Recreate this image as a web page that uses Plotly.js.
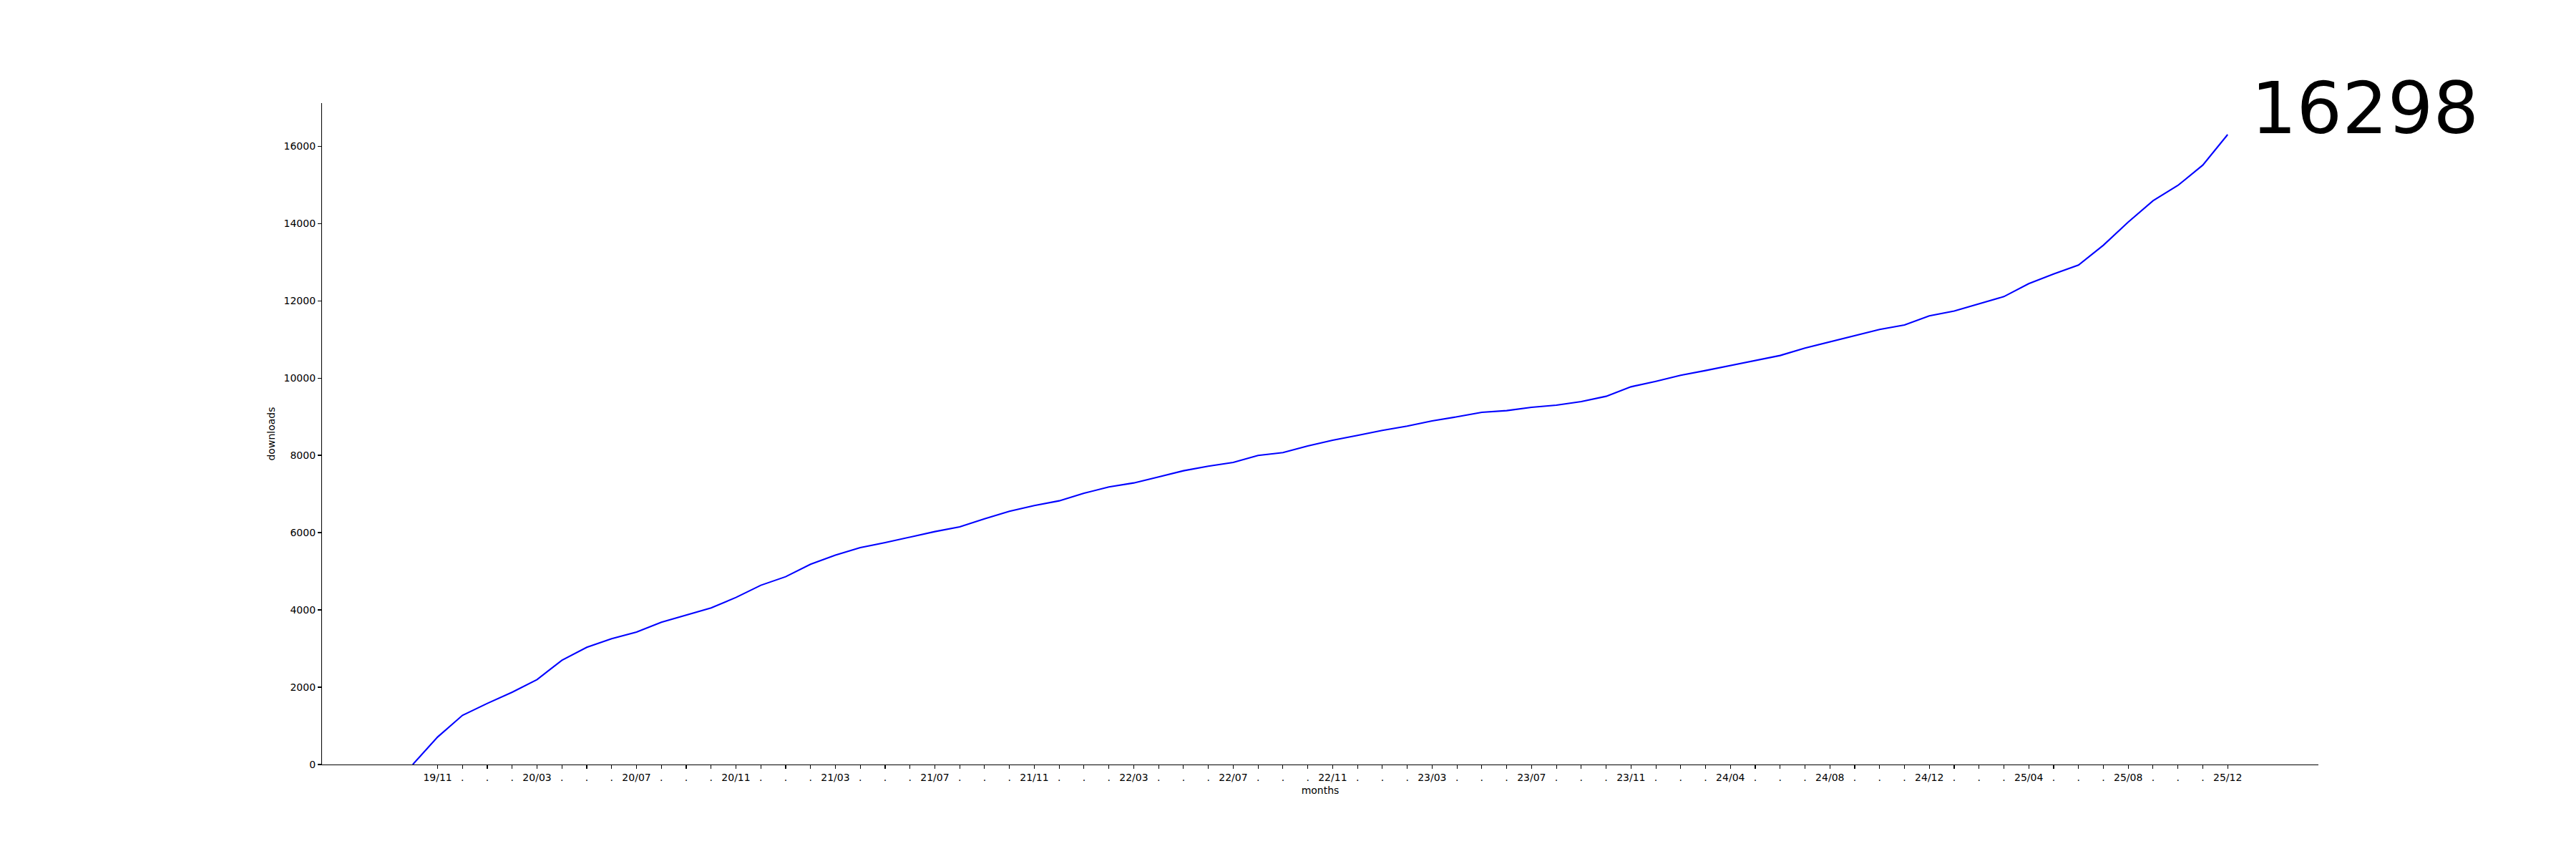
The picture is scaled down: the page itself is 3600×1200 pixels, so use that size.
<!DOCTYPE html>
<html>
<head>
<meta charset="utf-8">
<script src="https://cdn.plot.ly/plotly-3.0.1.min.js"></script>
<style>html,body{margin:0;padding:0;background:#fff;}#chart{width:3600px;height:1200px;}</style>
</head>
<body>
<div id="chart"></div>
<script>
// Months (one month between 23/11 and 24/04 is absent in the source)
const months = [
  "19/10","19/11","19/12","20/01","20/02","20/03","20/04","20/05","20/06","20/07","20/08","20/09","20/10","20/11","20/12",
  "21/01","21/02","21/03","21/04","21/05","21/06","21/07","21/08","21/09","21/10","21/11","21/12",
  "22/01","22/02","22/03","22/04","22/05","22/06","22/07","22/08","22/09","22/10","22/11","22/12",
  "23/01","23/02","23/03","23/04","23/05","23/06","23/07","23/08","23/09","23/10","23/11","23/12",
  "24/02","24/03","24/04","24/05","24/06","24/07","24/08","24/09","24/10","24/11","24/12",
  "25/01","25/02","25/03","25/04","25/05","25/06","25/07","25/08","25/09","25/10","25/11","25/12"
];
const downloads = [
  0, 711, 1272, 1582, 1871, 2198, 2698, 3031, 3254, 3426, 3680, 3859, 4050, 4322, 4637,
  4859, 5180, 5415, 5611, 5741, 5878, 6026, 6148, 6359, 6550, 6700, 6822,
  7019, 7180, 7285, 7439, 7600, 7717, 7815, 7995, 8069, 8241, 8389, 8515,
  8643, 8754, 8890, 8995, 9112, 9156, 9241, 9297, 9390, 9526, 9772, 9915,
  10069, 10193, 10323, 10445, 10582, 10773, 10934, 11094, 11255, 11372, 11607,
  11731, 11918, 12106, 12440, 12693, 12921, 13434, 14033, 14587, 14983, 15508, 16298
];
// tick labels: every 4th month named, the rest shown as "."
const tickMonths = months.slice(1);
const tickLabels = tickMonths.map((m, i) => (i % 4 === 0 ? m : "."));
const yTicks = [0, 2000, 4000, 6000, 8000, 10000, 12000, 14000, 16000];

const n = months.length;
const last = downloads[n - 1];
const font = "DejaVu Sans, sans-serif";

Plotly.newPlot("chart", [{
  x: months,
  y: downloads,
  type: "scatter",
  mode: "lines",
  line: {color: "#0000ff", width: 2.1},
  hoverinfo: "skip"
}], {
  width: 3600,
  height: 1200,
  paper_bgcolor: "#ffffff",
  plot_bgcolor: "#ffffff",
  showlegend: false,
  margin: {l: 450, r: 360, t: 144, b: 132, pad: 0},
  font: {family: font, color: "#000", size: 14},
  xaxis: {
    type: "category",
    range: [-0.05 * (n - 1), (n - 1) * 1.05],
    tickmode: "array",
    tickvals: tickMonths,
    ticktext: tickLabels,
    tickangle: 0,
    showgrid: false,
    zeroline: false,
    showline: true,
    linecolor: "#000",
    linewidth: 1.1,
    ticks: "outside",
    ticklen: 5,
    tickwidth: 1.1,
    tickcolor: "#000",
    tickfont: {family: font, size: 14, color: "#000"},
    title: {text: "months", font: {family: font, size: 14, color: "#000"}, standoff: 6},
    automargin: false
  },
  yaxis: {
    range: [0, last * 1.05],
    tickmode: "array",
    tickvals: yTicks,
    ticktext: yTicks.map(String),
    showgrid: false,
    zeroline: false,
    showline: true,
    linecolor: "#000",
    linewidth: 1.1,
    ticks: "outside",
    ticklen: 5,
    tickwidth: 1.1,
    tickcolor: "#000",
    tickfont: {family: font, size: 14, color: "#000"},
    title: {text: "downloads", font: {family: font, size: 14, color: "#000"}, standoff: 8},
    automargin: false
  },
  annotations: [{
    x: n - 1,
    y: last,
    xref: "x",
    yref: "y",
    text: String(last),
    showarrow: false,
    xanchor: "left",
    yanchor: "bottom",
    xshift: 31,
    yshift: -24,
    font: {family: font, size: 100, color: "#000"}
  }]
}, {displayModeBar: false, staticPlot: true});
</script>
</body>
</html>
